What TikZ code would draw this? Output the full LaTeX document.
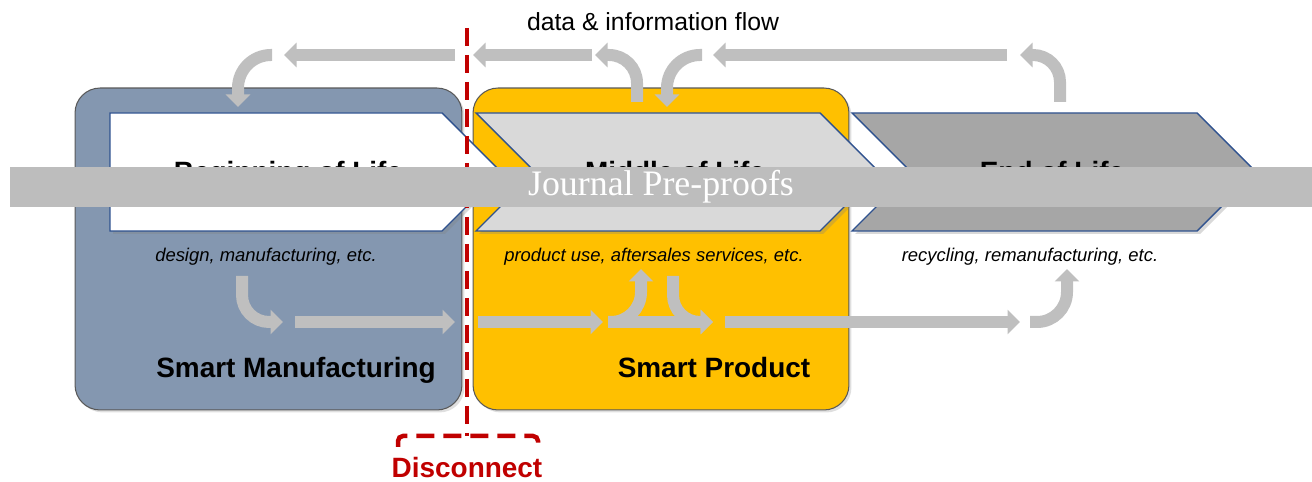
\documentclass[tikz,border=0pt]{standalone}
\usepackage{fontspec}
\setmainfont{Liberation Sans}
\newfontfamily\bandfont{Liberation Serif}
\usetikzlibrary{arrows.meta,shadows,positioning}

\definecolor{smblue}{HTML}{8497B0}
\definecolor{spyellow}{HTML}{FFC000}
\definecolor{edgeblue}{HTML}{2F528F}
\definecolor{molgray}{HTML}{D9D9D9}
\definecolor{eolgray}{HTML}{A6A6A6}
\definecolor{flowgray}{HTML}{BFBFBF}
\definecolor{bandgray}{HTML}{BDBDBD}
\definecolor{cutred}{HTML}{C00000}

\begin{document}
\begin{tikzpicture}[x=0.02cm, y=-0.02cm,
% Areas and stages
		area/.style={rectangle
							    , rounded corners=0.5cm
							    , draw=black!65, line width=0.6pt
							    , minimum width=#1
							    , minimum height=6.44cm
							    , drop shadow={opacity=0.25, shadow xshift=0.05cm, shadow yshift=-0.05cm}},
		stage/.style={draw=edgeblue, line width=0.8pt
							    , drop shadow={opacity=0.3, shadow xshift=0.06cm, shadow yshift=-0.06cm}},
		stagetitle/.style={font=\fontsize{15.9}{18}\selectfont\bfseries, anchor=base},
		areatitle/.style={font=\fontsize{15.9}{18}\selectfont\bfseries, anchor=base},
		note/.style={font=\fontsize{10.5}{12}\selectfont\itshape, anchor=base},
% Flow arrows
		flow/.style={draw=flowgray, line width=0.24cm
							    , -{Triangle[length=0.25cm, width=0.48cm]}},
		cut/.style={draw=cutred, line width=0.09cm
							    , dash pattern=on 0.36cm off 0.18cm}
	]
	\useasboundingbox (0,0) rectangle (1312,482);

%% Areas
	\node [area=7.74cm, fill=smblue] (sm) at (268.5,249) {};
	\node [area=7.52cm, fill=spyellow] (sp) at (661,249) {};

%% Life cycle stages
	\path [stage, fill=white] (110,113) -- (442,113) -- (501,172) -- (442,231) -- (110,231) -- cycle;
	\path [stage, fill=molgray] (476,113) -- (820,113) -- (879,172) -- (820,231) -- (476,231) -- (535,172) -- cycle;
	\path [stage, fill=eolgray] (852,113) -- (1197,113) -- (1256,172) -- (1197,231) -- (852,231) -- (911,172) -- cycle;

	\node [stagetitle] (bolt) at (288,182) {Beginning of Life};
	\node [stagetitle] (molt) at (675,182) {Middle of Life};
	\node [stagetitle] (eolt) at (1052,182) {End of Life};

	\node [note] (bolc) at (266,262) {design, manufacturing, etc.};
	\node [note] (molc) at (654,262) {product use, aftersales services, etc.};
	\node [note] (eolc) at (1030,262) {recycling, remanufacturing, etc.};

	\node [areatitle] (smt) at (296,378) {Smart Manufacturing};
	\node [areatitle] (spt) at (714,378) {Smart Product};

	\node [font=\fontsize{14.1}{16}\selectfont, anchor=base] (flowt) at (653,31) {data \& information flow};

%% Flow arrows
	\foreach \n/\px/\py in {t1s/455/55, t1e/284/55, t2s/272/55, t2e/238/107,
	                        t3s/592/55, t3e/473/55, t4s/637/102, t4e/595/55,
	                        t5s/702/55, t5e/667/107, t6s/1007/55, t6e/713/55,
	                        t7s/1060/102, t7e/1020/55,
	                        b1s/242/276, b1e/283/322, b2s/295/322, b2e/455/322,
	                        b3s/478/322, b3e/603/322, b4s/608/322, b4e/713/322,
	                        b5e/641/269, b6s/673/276, b7s/725/322, b7e/1020/322,
	                        b8s/1030/322, b8e/1067/269}
	  \coordinate (\n) at (\px,\py);

	\draw [flow] (t1s) -- (t1e);
	\draw [flow, rounded corners=0.66cm] (t2s) -| (t2e);
	\draw [flow] (t3s) -- (t3e);
	\draw [flow, rounded corners=0.56cm] (t4s) |- (t4e);
	\draw [flow, rounded corners=0.66cm] (t5s) -| (t5e);
	\draw [flow] (t6s) -- (t6e);
	\draw [flow, rounded corners=0.54cm] (t7s) |- (t7e);

	\draw [flow, rounded corners=0.54cm] (b1s) |- (b1e);
	\draw [flow] (b2s) -- (b2e);
	\draw [flow] (b3s) -- (b3e);
	\draw [flow] (b4s) -- (b4e);
	\draw [flow, rounded corners=0.6cm] (b4s) -| (b5e);
	\draw [flow, rounded corners=0.54cm] (b6s) |- (b4e);
	\draw [flow] (b7s) -- (b7e);
	\draw [flow, rounded corners=0.6cm] (b8s) -| (b8e);

%% Disconnect
	\coordinate (cuttop) at (467,28);
	\coordinate (cutbot) at (467,436);
	\coordinate (brl) at (398,447);
	\coordinate (brr) at (538,447);
	\draw [cut] (cuttop) -- (cutbot);
	\draw [cut, rounded corners=0.1cm] (brl) |- (cutbot) -| (brr);
	\node [font=\fontsize{15.9}{18}\selectfont\bfseries, text=cutred, anchor=base] (cutt) at (467,478) {Disconnect};

%% Watermark band
	\node [fill=bandgray, text=white, inner sep=0pt
	      , minimum width=26.04cm, minimum height=0.8cm
	      , font=\bandfont\fontsize{20.4}{24}\selectfont] (wm) at (661,187) {Journal Pre-proofs};
\end{tikzpicture}
\end{document}
